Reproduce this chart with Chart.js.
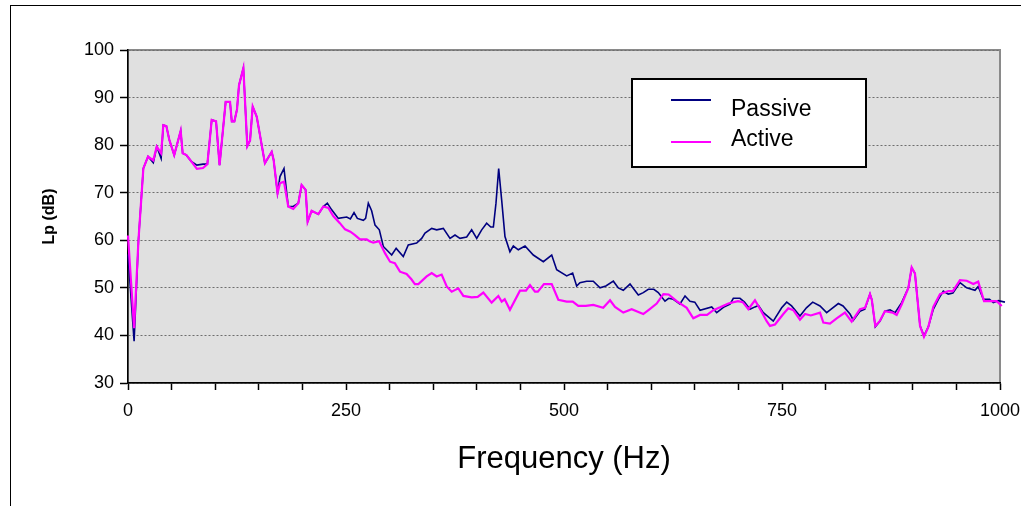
<!DOCTYPE html>
<html>
<head>
<meta charset="utf-8">
<script src="https://cdn.jsdelivr.net/npm/chart.js@4.4.1/dist/chart.umd.min.js"></script>
<style>
  html, body { margin: 0; padding: 0; background: #fff; }
  #wrap { width: 1021px; height: 506px; position: relative; }
</style>
</head>
<body>
<div id="wrap"><canvas id="c" width="1021" height="506"></canvas></div>
<script>
// Datos (frecuencia en Hz, nivel en dB)
const passiveFreq = [0,7,12,17.6,23,29,33,36,38,40.5,44,47.4,53,60.4,62.7,67,73,79,86,91,96,101,105,112,117,119,122,125,127.3,132.3,136.8,140,143,147.6,157,164.8,167,171.5,174.3,178.9,183.8,189.5,195.3,199.1,203.7,206,210.6,218.3,224,228.6,233.6,241.2,250.8,255,259.2,263,269.9,272.5,275.6,279.4,283.3,288.2,292.8,302.4,307.5,315.7,321.4,331,336.8,340.6,348.3,354,361.6,369.3,375,380.7,388.4,394.1,399.9,405.6,411.3,416,419,422,425.1,428.5,432.3,438,441.9,447.6,455.3,464.8,476.3,485.9,491.6,503.1,509.9,514.5,518.3,526,533.6,541.3,548,556.6,562.3,568,575.7,585.2,590.9,596.7,603,608.1,615.8,620,625.4,633,638.8,644.5,650,656,669.4,675.1,682.8,690.4,694.2,701.8,707,713.3,719,723,728.6,740,749.6,755.4,761,770.6,778,785.2,793.6,801.2,806,814.6,820,828,831.8,839.4,845,850.9,853,857,862.4,868.1,873.9,879.6,887.2,894.9,898.7,902.5,908.3,912.8,917.8,923.5,929.3,935,940.7,946,954.1,961.8,971.3,975,980.9,988,992.3,998,1005.7,1011.5];
const passiveLp = [57,38.8,60,75.1,77.6,76.3,79.7,78.2,77.2,84.2,84,81.1,77.9,83,78.3,77.9,76.5,75.8,76,76,85.3,85,75.8,89.1,89.1,85,85,87.5,92.6,96.2,79.8,81,88.1,86,76.2,78.6,76.9,69.9,73.4,75.1,67.1,67.1,67.8,71.6,70.6,63.9,66.2,65.5,67.1,67.8,66.4,64.6,64.9,64.5,65.8,64.6,64.2,64.6,67.8,66.2,63.2,62.2,58.7,56.9,58.3,56.6,59,59.4,60.4,61.5,62.5,62.2,62.5,60.4,61.1,60.4,60.7,62.2,60.4,62.2,63.6,62.8,62.8,67.8,75.1,68.5,60.8,57.6,58.8,58,58.8,56.9,55.5,56.9,53.8,52.5,53.1,50.4,51.1,51.4,51.4,50,50.4,51.4,50,49.5,50.8,48.5,49,49.7,49.7,49,47.2,47.8,47.6,46.6,48.3,47.2,47,45.3,46,44.8,45.9,46.6,47.8,47.8,47,45.5,46,46.3,44.8,43,45.8,47,46.2,44.1,45.8,47,46.2,44.8,45.5,46.7,46.2,44.5,43.2,45.1,45.5,48.7,47.5,41.8,43,45.1,45.4,44.8,46.9,50,54.2,53,42,39.9,41.8,45.5,47.6,49.3,48.7,48.9,51.1,50,49.5,50.3,47.6,47.6,46.9,47.3,47,46.2];

const activeFreq = [0,7,12,17.6,23,29,33,38,40.5,44,47.4,53,60.4,62.7,67,73,79,86,91,96,101,105,112,117,119,122,125,127.3,132.3,136.8,140,143,147.6,157,164.8,167,171.5,174.3,178.9,183.8,189.5,195.3,199.1,203.7,206,210.6,218.3,224,229.8,235.4,243,248.9,255,260.3,266,273.7,277,281.3,288,294.7,300.5,306,311.9,319.5,325,329,333,342.5,348.3,354,359.7,365.5,371.2,378.8,384.6,394.1,401,407.5,417,424.7,428.5,432,438,449.5,456.4,461,466.7,470,477,485.9,493.5,503.1,510,516.4,525,533.6,545,552.8,558.5,568,577.6,590.9,598,606.3,613.9,620,629.2,640.7,648.3,656,664,671.3,679,688.5,699.5,705,711.4,719,725,732.4,736.2,742,751.5,757.2,763,770.6,776.4,783,793.6,797.4,805,812.7,822.2,829.9,839.4,845.2,850.9,853,857,862,868,876.8,881.5,887.2,894.9,898.7,902.5,908.3,912.8,917.8,923.5,931.2,940.7,946,954.1,961.8,969.4,975,981.7,990,996.2,1002,1008,1013.4];
const activeLp = [61,41.5,60,75.1,77.6,76.8,79.7,78.3,84.2,84,81.1,77.9,83,78.3,77.9,76.5,75,75.2,76,85.3,85,75.8,89.1,89.1,85,85,87.5,92.6,96.2,79.8,81,88.1,86,76.2,78.6,76.9,69.9,72,72.3,67.1,66.6,67.8,71.6,70.6,63.9,66.2,65.5,67.1,66.8,65.1,63.6,62.3,61.8,61.1,60.2,60.2,59.8,59.5,59.8,57.3,55.5,55.2,53.4,52.9,51.8,50.8,50.8,52.4,53.1,52.4,52.8,50.3,49.2,49.9,48.3,48,48.1,49,46.9,48.3,47.1,47.6,45.4,49.4,49.4,50.6,49.2,49.2,50.8,50.8,47.5,47.1,47.1,46.2,46.2,46.4,45.8,47.4,46,44.8,45.5,44.5,45.5,46.7,48.7,48.6,47.2,45.8,43.6,44.3,44.3,45.3,45.9,46.7,47.2,47,45.5,47.4,45.5,43,42,42.3,44.5,45.7,45.3,43.3,44.5,44.2,44.8,42.7,42.5,43.6,44.8,42.9,45.5,45.8,48.7,47.5,42,43,45.1,44.8,44.3,46.5,50,54.3,53,42,39.7,41.8,46,48.7,49.3,49.3,51.6,51.5,50.8,51.3,47.2,47.2,47.2,46.2,46.2,46.7];

const seriesNames = ["Passive", "Active"];
const seriesColors = ["#000080", "#ff00ff"];
const xTicks = [0, 250, 500, 750, 1000];

const toPoints = (fs, vs) => fs.map((f, i) => ({ x: f, y: vs[i] }));
const FONT = "'Liberation Sans', Arial, sans-serif";

// Fondo, marco exterior y área de trazado gris
const fondo = {
  id: 'fondo',
  beforeDraw(chart) {
    const { ctx, chartArea: a } = chart;
    ctx.save();
    ctx.fillStyle = '#fff';
    ctx.fillRect(0, 0, chart.width, chart.height);
    ctx.strokeStyle = '#000';
    ctx.lineWidth = 1;
    ctx.strokeRect(10.5, 5.5, 1200, 700);
    ctx.fillStyle = '#e0e0e0';
    ctx.fillRect(a.left, a.top, a.right - a.left, a.bottom - a.top);
    ctx.strokeStyle = '#8a8a8a';
    ctx.lineWidth = 2;
    ctx.strokeRect(a.left, a.top, a.right - a.left, a.bottom - a.top);
    ctx.restore();
  }
};

// Leyenda en recuadro blanco
const leyenda = {
  id: 'leyenda',
  afterDatasetsDraw(chart) {
    const ctx = chart.ctx;
    ctx.save();
    ctx.fillStyle = '#fff';
    ctx.fillRect(632, 79, 234, 88);
    ctx.strokeStyle = '#000';
    ctx.lineWidth = 2;
    ctx.strokeRect(632, 79, 234, 88);
    const lineY = [100, 142], textY = [110, 140];
    ctx.font = "23px " + FONT;
    ctx.textBaseline = 'middle';
    ctx.textAlign = 'left';
    seriesNames.forEach((n, i) => {
      ctx.strokeStyle = seriesColors[i];
      ctx.lineWidth = 2;
      ctx.beginPath();
      ctx.moveTo(671, lineY[i]);
      ctx.lineTo(711, lineY[i]);
      ctx.stroke();
      ctx.fillStyle = '#000';
      ctx.fillText(n, 731, textY[i]);
    });
    ctx.restore();
  }
};

new Chart(document.getElementById('c'), {
  type: 'line',
  data: {
    datasets: [
      {
        label: seriesNames[0],
        data: toPoints(passiveFreq, passiveLp),
        borderColor: seriesColors[0],
        borderWidth: 1.6,
        pointRadius: 0,
        tension: 0,
        clip: false,
        order: 2
      },
      {
        label: seriesNames[1],
        data: toPoints(activeFreq, activeLp),
        borderColor: seriesColors[1],
        borderWidth: 2.2,
        pointRadius: 0,
        tension: 0,
        clip: false,
        order: 1
      }
    ]
  },
  options: {
    responsive: false,
    animation: false,
    layout: { padding: { top: 50, right: 21, left: 0, bottom: 0 } },
    plugins: { legend: { display: false }, tooltip: { enabled: false } },
    scales: {
      x: {
        type: 'linear',
        min: 0,
        max: 1000,
        afterFit: s => { s.height = 123; s.paddingRight = 0; },
        ticks: {
          stepSize: 50,
          autoSkip: false,
          maxRotation: 0,
          padding: 10,
          color: '#000',
          font: { family: FONT, size: 18 },
          callback: v => xTicks.includes(v) ? String(v) : ''
        },
        grid: { drawOnChartArea: false, drawTicks: true, tickLength: 7, tickColor: '#000', tickWidth: 1.5 },
        border: { color: '#000', width: 1.5 },
        title: {
          display: true,
          text: 'Frequency (Hz)',
          color: '#000',
          font: { family: FONT, size: 31 },
          padding: { top: 0, bottom: 28 }
        }
      },
      y: {
        min: 30,
        max: 100,
        afterFit: s => { s.width = 128; },
        ticks: {
          stepSize: 10,
          padding: 6,
          color: '#000',
          font: { family: FONT, size: 18 }
        },
        grid: {
          color: '#6e6e6e',
          lineWidth: 1,
          drawTicks: true,
          tickLength: 8,
          tickColor: '#000',
          tickWidth: 1.5,
          tickBorderDash: []
        },
        border: { color: '#000', width: 1.5, dash: [2, 2] },
        title: {
          display: true,
          text: 'Lp (dB)',
          color: '#000',
          font: { family: FONT, size: 16, weight: 'bold' },
          padding: { top: 40, bottom: 0 }
        }
      }
    }
  },
  plugins: [fondo, leyenda]
});
</script>
</body>
</html>
